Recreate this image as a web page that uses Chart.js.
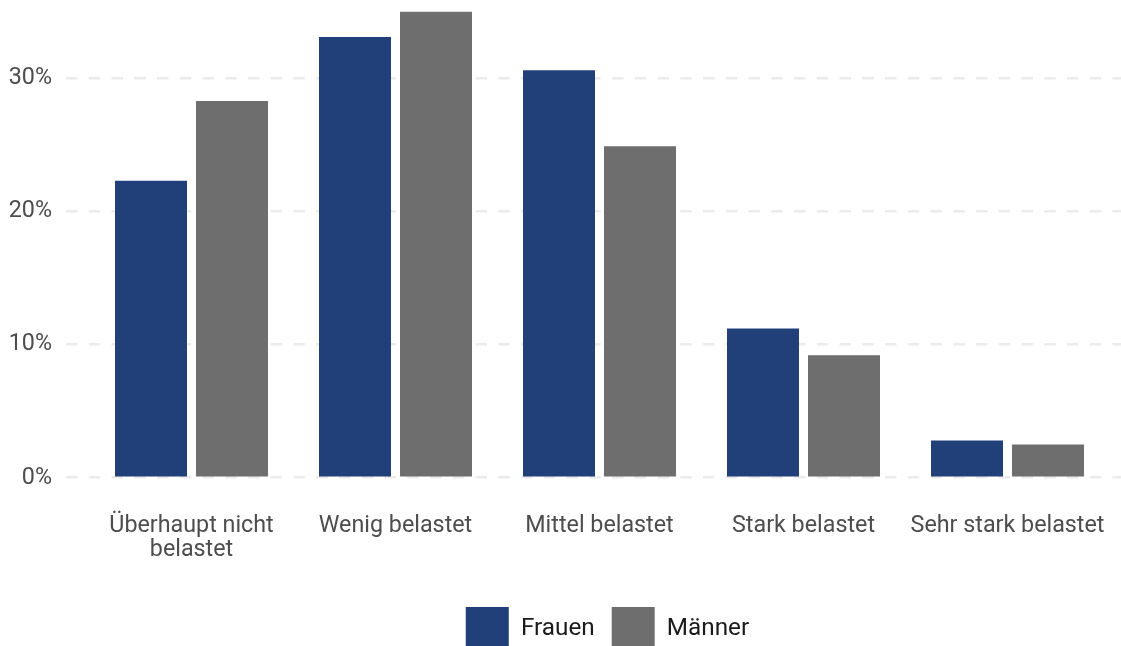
<!DOCTYPE html>
<html>
<head>
<meta charset="utf-8">
<script src="https://cdn.jsdelivr.net/npm/chart.js@4/dist/chart.umd.min.js"></script>
<style>
  html, body { margin: 0; padding: 0; overflow: hidden; background: #ffffff; width: 1121px; height: 646px; }
  #wrap { position: absolute; left: 0; top: 0; width: 1149px; height: 660px; }
  canvas { display: block; }
</style>
</head>
<body>
<div id="wrap"><canvas id="c" width="1149" height="660" style="width:1149px;height:660px"></canvas></div>
<script>
// ---- data ----
const categories = [['Überhaupt nicht', 'belastet'], 'Wenig belastet', 'Mittel belastet', 'Stark belastet', 'Sehr stark belastet'];
const seriesNames = ['Frauen', 'Männer'];
const frauen = [22.3, 33.1, 30.6, 11.2, 2.8];
const maenner = [28.3, 35.0, 24.9, 9.2, 2.5];
const yTicks = [0, 10, 20, 30];

// ---- styling ----
const colors = ['#213f79', '#6e6e6e'];
const axisGray = '#4d4d4d';

function toPoints(arr) { return arr.map((v, i) => ({ x: i + 1, y: v })); }

function draw() {
  new Chart(document.getElementById('c'), {
    type: 'bar',
    data: {
      datasets: [
        { label: seriesNames[0], data: toPoints(frauen), backgroundColor: colors[0], borderWidth: 0,
          categoryPercentage: 0.794, barPercentage: 0.889 },
        { label: seriesNames[1], data: toPoints(maenner), backgroundColor: colors[1], borderWidth: 0,
          categoryPercentage: 0.794, barPercentage: 0.889 }
      ]
    },
    options: {
      responsive: false,
      animation: false,
      devicePixelRatio: 1,
      layout: { padding: 0 },
      scales: {
        x: {
          type: 'linear',
          min: 0.3848,
          max: 0.3848 + (1149 - 66) / 204,
          offset: false,
          grid: { display: false, drawTicks: false, offset: false },
          border: { display: false },
          afterBuildTicks: (s) => { s.ticks = categories.map((_, i) => ({ value: i + 1 })); },
          afterFit: (s) => { s.height = 112.3; s.paddingLeft = 0; s.paddingRight = 0; },
          ticks: {
            autoSkip: false,
            maxRotation: 0,
            minRotation: 0,
            padding: 36,
            color: axisGray,
            font: { family: 'Roboto', size: 23.3, lineHeight: 24 / 23.3 },
            callback: (v) => categories[Math.round(v) - 1]
          }
        },
        y: {
          type: 'linear',
          min: 0,
          max: 35.88,
          grid: { color: '#ebebeb', lineWidth: 2.5, drawTicks: false },
          border: { display: false, dash: [11.5, 11.25] },
          afterBuildTicks: (s) => { s.ticks = yTicks.map(v => ({ value: v })); },
          afterFit: (s) => { s.width = 66; s.paddingTop = 0; s.paddingBottom = 0; },
          ticks: {
            padding: 14,
            color: axisGray,
            font: { family: 'Roboto', size: 23.3 },
            callback: (v) => v + '%'
          }
        }
      },
      plugins: {
        tooltip: { enabled: false },
        legend: {
          position: 'bottom',
          fullSize: false,
          labels: {
            boxWidth: 43,
            boxHeight: 43,
            padding: 17,
            color: '#1a1a1a',
            font: { family: 'Roboto', size: 24.3 }
          }
        }
      }
    }
  });
}

if (document.fonts && document.fonts.load) {
  Promise.all([document.fonts.load('23px Roboto'), document.fonts.load('24px Roboto')]).then(draw, draw);
} else {
  draw();
}
</script>
</body>
</html>
